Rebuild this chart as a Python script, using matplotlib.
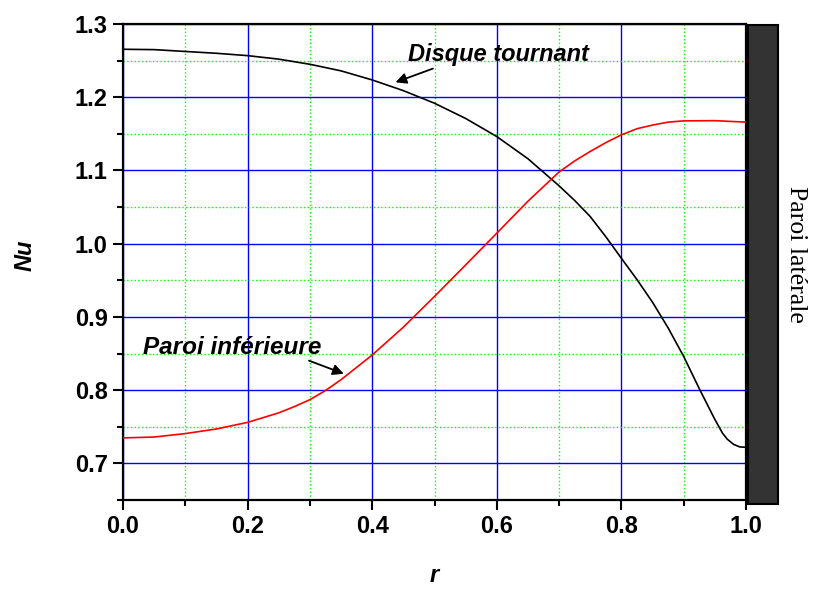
import numpy as np
import matplotlib
matplotlib.use("Agg")
import matplotlib.pyplot as plt
from matplotlib.patches import Rectangle
from matplotlib.ticker import MultipleLocator

# Nusselt number along the radius
r_disque = [0.0, 0.05, 0.1, 0.15, 0.2, 0.25, 0.3, 0.35, 0.4, 0.45, 0.5, 0.55,
            0.6, 0.65, 0.7, 0.725, 0.75, 0.775, 0.8, 0.825, 0.85, 0.875, 0.9,
            0.925, 0.95, 0.9625, 0.97, 0.98, 0.99, 1.0]
nu_disque = [1.2655, 1.265, 1.2625, 1.260, 1.2568, 1.252, 1.245, 1.236, 1.2236,
             1.209, 1.1918, 1.171, 1.1463, 1.116, 1.079, 1.059, 1.037, 1.0095,
             0.980, 0.951, 0.920, 0.885, 0.846, 0.802, 0.760, 0.741, 0.733,
             0.726, 0.7225, 0.722]

r_paroi = [0.0, 0.05, 0.1, 0.15, 0.2, 0.25, 0.275, 0.3, 0.325, 0.35, 0.4,
           0.45, 0.5, 0.55, 0.6, 0.65, 0.7, 0.725, 0.75, 0.775, 0.8, 0.825,
           0.85, 0.875, 0.9, 0.95, 1.0]
nu_paroi = [0.7348, 0.736, 0.7407, 0.747, 0.756, 0.769, 0.7775, 0.787, 0.7995,
            0.8143, 0.848, 0.886, 0.928, 0.971, 1.0144, 1.058, 1.098, 1.113,
            1.126, 1.138, 1.1486, 1.157, 1.162, 1.166, 1.1677, 1.168, 1.166]

x_ticks = [0.0, 0.2, 0.4, 0.6, 0.8, 1.0]
y_ticks = [0.7, 0.8, 0.9, 1.0, 1.1, 1.2, 1.3]

SANS = "Liberation Sans"
SERIF = "Liberation Serif"


def main():
    fig = plt.figure(figsize=(8.13, 5.89), dpi=100)
    ax = fig.add_axes([123 / 813, 89 / 589, 623 / 813, 476 / 589])

    ax.plot(r_disque, nu_disque, color="black", lw=1.2, zorder=3)
    ax.plot(r_paroi, nu_paroi, color="red", lw=1.2, zorder=3)

    ax.set_xlim(0.0, 1.0)
    ax.set_ylim(0.65, 1.3)
    ax.set_xticks(x_ticks)
    ax.set_yticks(y_ticks)
    ax.xaxis.set_minor_locator(MultipleLocator(0.1))
    ax.yaxis.set_minor_locator(MultipleLocator(0.05))
    ax.set_xticklabels(["%.1f" % v for v in x_ticks])
    ax.set_yticklabels(["%.1f" % v for v in y_ticks])

    # blue major grid, green dotted minor grid
    ax.grid(which="major", color="blue", lw=1.0, zorder=1)
    ax.grid(which="minor", color="#00ff00", ls=":", lw=1.0, zorder=1)
    ax.set_axisbelow(True)

    ax.tick_params(which="major", direction="out", length=7, width=1.5,
                   pad=4, labelsize=17)
    ax.tick_params(which="minor", direction="out", length=4, width=1.5)
    for lab in ax.get_xticklabels() + ax.get_yticklabels():
        lab.set_fontfamily(SANS)
        lab.set_fontweight("bold")
    for sp in ax.spines.values():
        sp.set_linewidth(1.6)

    ax.set_xlabel("r", family=SANS, fontsize=17, fontweight="bold",
                  fontstyle="italic")
    ax.set_ylabel("Nu", family=SANS, fontsize=17, fontweight="bold",
                  fontstyle="italic")
    ax.xaxis.set_label_coords(0.5, -0.135)
    ax.yaxis.set_label_coords(-0.138, 0.515)

    # curve labels with arrows
    ax.annotate("Disque tournant", xy=(0.4332, 1.2191), xytext=(0.457, 1.2577),
                family=SANS, fontsize=17, fontweight="bold", fontstyle="italic",
                va="center", ha="left", zorder=4)
    ax.annotate("", xy=(0.4332, 1.2191), xytext=(0.5016, 1.2404),
                arrowprops=dict(arrowstyle="-|>", color="black", lw=1.3,
                                mutation_scale=16), zorder=4)
    ax.annotate("Paroi inférieure", xy=(0.3585, 0.8211), xytext=(0.032, 0.858),
                family=SANS, fontsize=17.5, fontweight="bold", fontstyle="italic",
                va="center", ha="left", zorder=4)
    ax.annotate("", xy=(0.3585, 0.8211), xytext=(0.2944, 0.8416),
                arrowprops=dict(arrowstyle="-|>", color="black", lw=1.3,
                                mutation_scale=16), zorder=4)

    # side wall drawn beside the axes
    wall = Rectangle((1.004, 0.6446), 0.048, 1.2986 - 0.6446,
                     facecolor="#333333", edgecolor="black", lw=1.5,
                     clip_on=False, zorder=5)
    ax.add_patch(wall)
    ax.text(1.0795, 0.985, "Paroi latérale", family=SERIF, fontsize=18.5,
            rotation=-90, ha="center", va="center")

    fig.savefig("out.png", dpi=100)


if __name__ == '__main__':
    main()
